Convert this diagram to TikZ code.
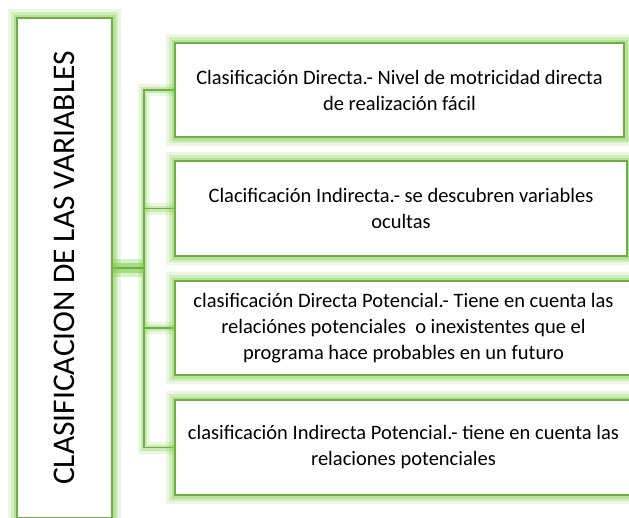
\documentclass[tikz,border=0pt]{standalone}
\usepackage{fontspec}
\setmainfont{Carlito}
\usetikzlibrary{backgrounds}
\definecolor{bord}{RGB}{112,173,71}
\definecolor{glow}{RGB}{125,208,70}
\tikzset{
  glowbox/.style={draw=bord, line width=2.5pt, fill=white, inner sep=0pt,
    preaction={draw=glow, line width=18pt, draw opacity=0.15, fill=none},
    preaction={draw=glow, line width=12pt, draw opacity=0.22, fill=none},
    preaction={draw=glow, line width=7pt, draw opacity=0.35, fill=none}},
  itembox/.style={glowbox, align=center, font=\fontsize{20.5}{26}\selectfont},
  conn/.style={draw=bord, line width=1.5pt,
    preaction={draw=glow, line width=12pt, draw opacity=0.15},
    preaction={draw=glow, line width=6pt, draw opacity=0.3}},
  trunk/.style={draw=bord, line width=2pt,
    preaction={draw=glow, line width=18pt, draw opacity=0.3},
    preaction={draw=glow, line width=10pt, draw opacity=0.55}}
}
\begin{document}
\begin{tikzpicture}[x=1pt,y=-1pt]
\useasboundingbox (0,0) rectangle (629,517);
\clip (0,0) rectangle (629,517);
\coordinate (j) at (144,268);
% nodes
\node[glowbox, rotate=90, minimum width=500pt, minimum height=95pt,
      font=\fontsize{31.5}{36}\selectfont] (L) at (64.5,268) {CLASIFICACION DE LAS VARIABLES};
\node[itembox, minimum width=449pt, minimum height=94pt] (b1) at (399.5,90)
  {Clasificación Directa.- Nivel de motricidad directa\\de realización fácil};
\node[itembox, minimum width=452pt, minimum height=95pt] (b2) at (401,208.5)
  {Clacificación Indirecta.- se descubren variables\\ocultas};
\node[itembox, minimum width=457pt, minimum height=94pt] (b3) at (403.5,328)
  {clasificación Directa Potencial.- Tiene en cuenta las\\relaciónes potenciales \ o inexistentes que el\\programa hace probables en un futuro};
\node[itembox, minimum width=457pt, minimum height=95pt] (b4) at (403.5,447.5)
  {clasificación Indirecta Potencial.- tiene en cuenta las\\relaciones potenciales};
% connectors (behind boxes)
\begin{scope}[on background layer]
\fill[white] (0,0) rectangle (629,517);
\draw[conn] (b1.west) -- (b1.west -| j) -- (b4.west -| j) -- (b4.west);
\draw[conn] (b2.west -| j) -- (b2.west);
\draw[conn] (b3.west -| j) -- (b3.west);
\draw[trunk] (L) -- (j);
\end{scope}
\end{tikzpicture}
\end{document}
